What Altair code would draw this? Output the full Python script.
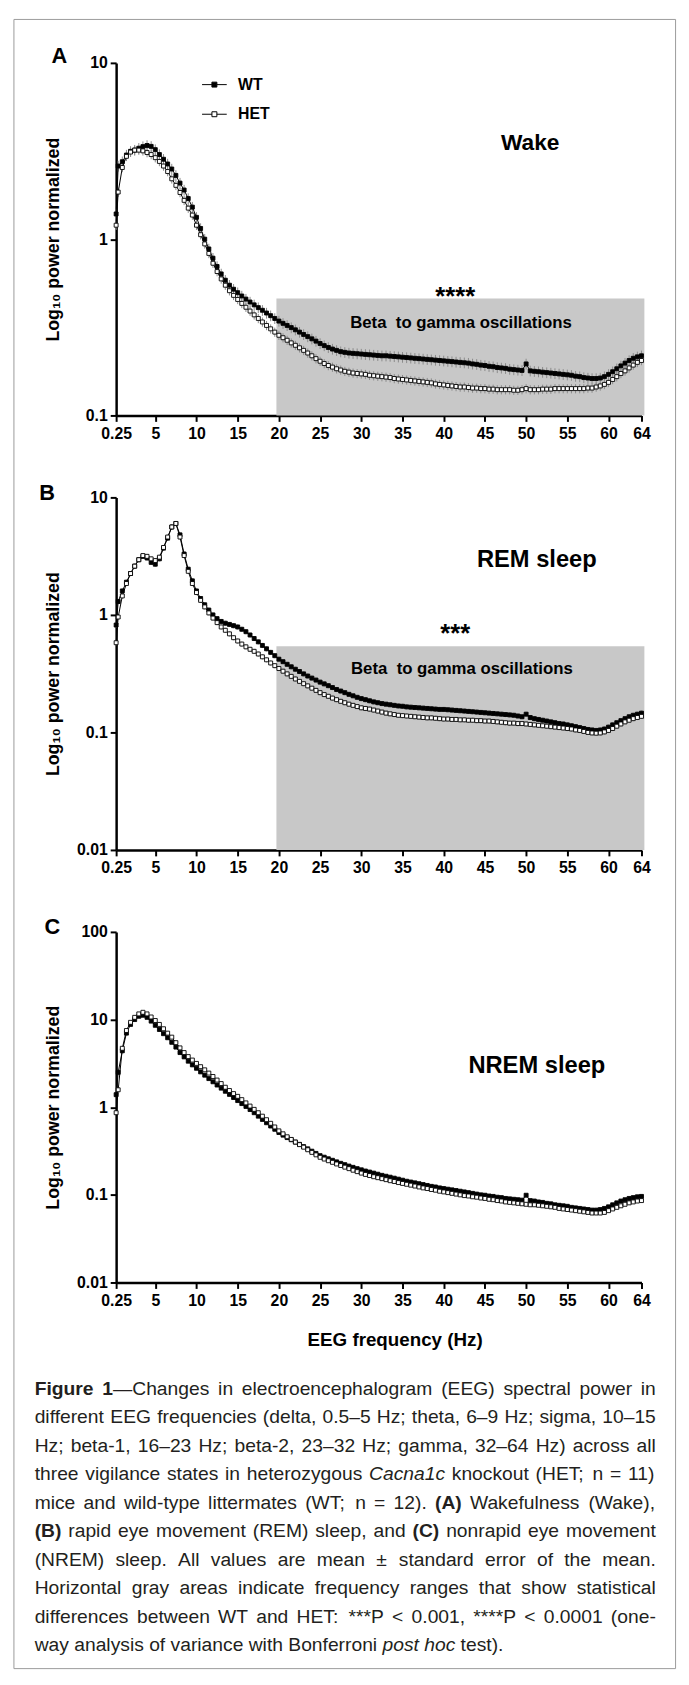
import altair as alt
import pandas as pd

# ---------------- data ----------------
FREQ = [0.25] + [k / 2 for k in range(1, 129)]   # 0.25, 0.5, 1.0 ... 64 Hz bins
X_TICKS = [0.25, 5, 10, 15, 20, 25, 30, 35, 40, 45, 50, 55, 60, 64]
SERIES = ["WT", "HET"]

WAKE_WT = [
    1.39, 2.6, 2.75, 3.0, 3.15, 3.2, 3.28, 3.35, 3.4, 3.36,
    3.22, 3.02, 2.84, 2.67, 2.5, 2.3, 2.08, 1.9, 1.7, 1.52,
    1.33, 1.15, 1.0, 0.88, 0.78, 0.7, 0.635, 0.585, 0.548, 0.52,
    0.497, 0.476, 0.457, 0.44, 0.424, 0.409, 0.395, 0.381, 0.368, 0.355,
    0.343, 0.333, 0.324, 0.315, 0.306, 0.297, 0.288, 0.28, 0.272, 0.264,
    0.256, 0.249, 0.243, 0.238, 0.234, 0.23, 0.228, 0.226, 0.225, 0.224,
    0.223, 0.222, 0.221, 0.22, 0.219, 0.218, 0.218, 0.217, 0.216, 0.215,
    0.214, 0.213, 0.212, 0.211, 0.21, 0.209, 0.208, 0.207, 0.206, 0.205,
    0.204, 0.203, 0.202, 0.201, 0.2, 0.199, 0.198, 0.196, 0.195, 0.193,
    0.192, 0.19, 0.189, 0.187, 0.186, 0.185, 0.183, 0.182, 0.181, 0.18,
    0.196, 0.179, 0.178, 0.177, 0.176, 0.175, 0.174, 0.173, 0.172, 0.171,
    0.17, 0.169, 0.167, 0.166, 0.164, 0.163, 0.162, 0.162, 0.163, 0.166,
    0.171, 0.177, 0.184, 0.191, 0.198, 0.205, 0.211, 0.215, 0.218,
]
WAKE_HET = [
    1.2, 1.85, 2.55, 2.95, 3.12, 3.2, 3.2, 3.17, 3.1, 3.02,
    2.9, 2.76, 2.6, 2.42, 2.2, 2.02, 1.84, 1.66, 1.5, 1.37,
    1.2, 1.06, 0.94, 0.83, 0.73, 0.655, 0.595, 0.548, 0.51, 0.48,
    0.455, 0.432, 0.411, 0.391, 0.372, 0.355, 0.339, 0.324, 0.31, 0.297,
    0.285, 0.276, 0.267, 0.258, 0.25, 0.242, 0.234, 0.226, 0.218, 0.21,
    0.203, 0.197, 0.192, 0.188, 0.184, 0.181, 0.178, 0.176, 0.174, 0.173,
    0.172, 0.171, 0.169, 0.168, 0.167, 0.166, 0.165, 0.164, 0.162, 0.161,
    0.16, 0.159, 0.158, 0.157, 0.156, 0.155, 0.154, 0.153, 0.151, 0.15,
    0.149, 0.148, 0.147, 0.146, 0.145, 0.145, 0.144, 0.143, 0.143, 0.142,
    0.142, 0.141, 0.141, 0.14, 0.14, 0.14, 0.14, 0.139, 0.139, 0.14,
    0.142, 0.14, 0.14, 0.14, 0.141, 0.141, 0.141, 0.142, 0.142, 0.142,
    0.142, 0.142, 0.142, 0.142, 0.142, 0.143, 0.143, 0.145, 0.147, 0.15,
    0.154, 0.16, 0.166, 0.173, 0.179, 0.186, 0.193, 0.2, 0.205,
]
REM_WT = [
    0.82, 1.3, 1.6, 1.9, 2.25, 2.6, 2.95, 3.15, 3.05, 2.8,
    2.7, 3.0, 3.7, 4.5, 5.6, 6.0, 4.8, 3.3, 2.45, 1.95,
    1.6, 1.38, 1.22, 1.1, 1.0, 0.93, 0.88, 0.85, 0.83, 0.81,
    0.79, 0.755, 0.72, 0.675, 0.63, 0.59, 0.55, 0.515, 0.48, 0.45,
    0.42, 0.4, 0.38, 0.362, 0.345, 0.33, 0.315, 0.302, 0.29, 0.279,
    0.268, 0.259, 0.25, 0.241, 0.232, 0.225, 0.218, 0.211, 0.205, 0.199,
    0.194, 0.19, 0.186, 0.182, 0.179, 0.176, 0.174, 0.172, 0.17, 0.168,
    0.167, 0.165, 0.164, 0.163, 0.162, 0.161, 0.16, 0.159, 0.158, 0.157,
    0.157, 0.156, 0.155, 0.154, 0.153, 0.152, 0.151, 0.15, 0.149, 0.148,
    0.147, 0.146, 0.145, 0.144, 0.143, 0.142, 0.141, 0.14, 0.138, 0.136,
    0.143, 0.134, 0.131, 0.129, 0.127, 0.125, 0.123, 0.121, 0.119, 0.118,
    0.116, 0.114, 0.112, 0.11, 0.108, 0.106, 0.105, 0.104, 0.105, 0.107,
    0.111, 0.116, 0.121, 0.126, 0.131, 0.136, 0.14, 0.143, 0.146,
]
REM_HET = [
    0.58, 0.96, 1.45, 1.85, 2.25, 2.6, 2.95, 3.2, 3.15, 3.0,
    2.9, 3.1, 3.75, 4.6, 5.6, 6.0, 4.6, 3.2, 2.35, 1.85,
    1.55, 1.33, 1.17, 1.04, 0.94, 0.86, 0.79, 0.74, 0.69, 0.64,
    0.6, 0.565, 0.535, 0.51, 0.49, 0.465, 0.44, 0.415, 0.39, 0.37,
    0.35, 0.332, 0.315, 0.3, 0.285, 0.272, 0.26, 0.249, 0.238, 0.228,
    0.218, 0.21, 0.203, 0.196, 0.19, 0.184, 0.179, 0.174, 0.17, 0.166,
    0.162, 0.16, 0.158, 0.155, 0.152, 0.149, 0.146, 0.144, 0.142, 0.14,
    0.139, 0.138, 0.137, 0.136, 0.135, 0.134, 0.133, 0.133, 0.132, 0.131,
    0.13, 0.13, 0.129, 0.129, 0.128, 0.128, 0.127, 0.127, 0.126, 0.126,
    0.125, 0.125, 0.124, 0.123, 0.122, 0.121, 0.12, 0.12, 0.119, 0.119,
    0.118, 0.117, 0.116, 0.115, 0.114, 0.113, 0.112, 0.111, 0.11, 0.109,
    0.108, 0.107, 0.105, 0.104, 0.102, 0.1, 0.099, 0.0985, 0.099, 0.101,
    0.104, 0.108, 0.113, 0.118, 0.123, 0.127, 0.131, 0.134, 0.137,
]
NREM_WT = [
    1.39, 2.5, 4.4, 7.0, 8.8, 10.0, 10.9, 11.2, 10.6, 9.6,
    8.6, 7.7, 6.9, 6.2, 5.5, 4.85, 4.2, 3.75, 3.35, 3.04,
    2.78, 2.53, 2.32, 2.12, 1.95, 1.79, 1.65, 1.52, 1.4, 1.29,
    1.19, 1.1, 1.02, 0.94, 0.865, 0.79, 0.725, 0.665, 0.61, 0.56,
    0.514, 0.48, 0.45, 0.425, 0.4, 0.377, 0.355, 0.335, 0.315, 0.297,
    0.28, 0.269, 0.258, 0.248, 0.238, 0.229, 0.221, 0.213, 0.206, 0.199,
    0.193, 0.187, 0.182, 0.177, 0.172, 0.167, 0.163, 0.159, 0.155, 0.151,
    0.147, 0.143, 0.14, 0.137, 0.134, 0.131, 0.128, 0.125, 0.123, 0.12,
    0.118, 0.116, 0.114, 0.112, 0.11, 0.108, 0.106, 0.104, 0.102, 0.1,
    0.099, 0.097, 0.096, 0.094, 0.093, 0.091, 0.09, 0.089, 0.088, 0.087,
    0.099, 0.086, 0.085, 0.083, 0.082, 0.08, 0.079, 0.077, 0.076, 0.075,
    0.074, 0.072, 0.071, 0.07, 0.069, 0.068, 0.067, 0.067, 0.068, 0.07,
    0.073, 0.077, 0.081, 0.085, 0.088, 0.091, 0.093, 0.095, 0.096,
]
NREM_HET = [
    0.865, 1.58, 4.7, 7.5, 9.3, 10.6, 11.6, 12.1, 11.6, 10.7,
    9.75, 8.8, 7.85, 7.0, 6.3, 5.45, 4.75, 4.2, 3.78, 3.45,
    3.16, 2.9, 2.67, 2.45, 2.24, 2.04, 1.86, 1.69, 1.55, 1.43,
    1.33, 1.22, 1.12, 1.03, 0.945, 0.865, 0.79, 0.72, 0.655, 0.595,
    0.537, 0.497, 0.46, 0.429, 0.4, 0.374, 0.35, 0.327, 0.305, 0.286,
    0.268, 0.256, 0.245, 0.235, 0.225, 0.216, 0.207, 0.199, 0.191, 0.184,
    0.177, 0.171, 0.166, 0.161, 0.157, 0.153, 0.149, 0.145, 0.142, 0.138,
    0.135, 0.132, 0.129, 0.126, 0.123, 0.12, 0.118, 0.115, 0.113, 0.11,
    0.108, 0.106, 0.104, 0.102, 0.1, 0.098, 0.097, 0.095, 0.094, 0.092,
    0.091, 0.089, 0.088, 0.086, 0.085, 0.083, 0.082, 0.081, 0.08, 0.079,
    0.078, 0.077, 0.077, 0.076, 0.075, 0.074, 0.073, 0.072, 0.07, 0.069,
    0.068, 0.067, 0.066, 0.065, 0.064, 0.063, 0.062, 0.062, 0.062, 0.063,
    0.066, 0.069, 0.072, 0.075, 0.078, 0.081, 0.083, 0.085, 0.086,
]

# relative standard error of the mean (error bar half length / mean)
SEM = {"Wake": (0.07, 0.06), "REM": (0.05, 0.05), "NREM": (0.04, 0.04)}

# significant frequency band: start Hz, end Hz, top value
BAND = {"Wake": (19.7, 64.35, 0.46), "REM": (19.7, 64.35, 0.54)}
BAND_LABEL = "Beta\u00a0 to gamma oscillations"
BAND_LABEL_POS = {"Wake": (42.1, 0.336), "REM": (42.2, 0.345)}
STARS = {"Wake": ("****", 41.4, 0.424), "REM": ("***", 41.4, 0.593)}
STATE = {"Wake": ("Wake", 50.5, 3.52, 23), "REM": ("REM sleep", 51.3, 2.9, 24),
         "NREM": ("NREM sleep", 51.3, 2.93, 24)}

# caption: each line is a list of (text, style) runs; N normal, B bold, I italic
CAPTION_LINES = [
    [("Figure 1", "B"), ("\u2014Changes in electroencephalogram (EEG) spectral power in", "N")],
    [("different EEG frequencies (delta, 0.5\u20135 Hz; theta, 6\u20139 Hz; sigma, 10\u201315", "N")],
    [("Hz; beta-1, 16\u201323 Hz; beta-2, 23\u201332 Hz; gamma, 32\u201364 Hz) across all", "N")],
    [("three vigilance states in heterozygous ", "N"), ("Cacna1c", "I"), (" knockout (HET; n = 11)", "N")],
    [("mice and wild-type littermates (WT; n = 12). ", "N"), ("(A)", "B"), (" Wakefulness (Wake),", "N")],
    [("(B)", "B"), (" rapid eye movement (REM) sleep, and ", "N"), ("(C)", "B"), (" nonrapid eye movement", "N")],
    [("(NREM) sleep. All values are mean \u00b1 standard error of the mean.", "N")],
    [("Horizontal gray areas indicate frequency ranges that show statistical", "N")],
    [("differences between WT and HET: ***P < 0.001, ****P < 0.0001 (one-", "N")],
    [("way analysis of variance with Bonferroni ", "N"), ("post hoc", "I"), (" test).", "N")],
]

# ---------------- layout / style ----------------
FONT = "Liberation Sans, Arial, Helvetica, sans-serif"
CAP_FONT = "Liberation Sans, Arial, Helvetica, sans-serif"
CAP_SIZE = 19.5
CAP_LEFT, CAP_RIGHT = 34, 663
W = 532
SPACING = 83
PLOT_LEFT = 116.5
CAP_TOP = 1370.5
CAP_H = 300
CAP_LINE0 = 1395
CAP_STEP = 28.9
LBL = "'' + datum.value"
LEGEND_SYMBOL = "M-1,0H-0.2M0.2,0H1M-0.2,-0.2H0.2V0.2H-0.2Z"

# Arial / Liberation Sans advance widths (1/1000 em) used to justify the caption
_REG = {" ": 278, "!": 278, "(": 333, ")": 333, "*": 389, "+": 584, ",": 278, "-": 333, ".": 278,
        "/": 278, ":": 278, ";": 278, "<": 584, "=": 584, ">": 584, "?": 556,
        "A": 667, "B": 667, "C": 722, "D": 722, "E": 667, "F": 611, "G": 778, "H": 722, "I": 278,
        "J": 500, "K": 667, "L": 556, "M": 833, "N": 722, "O": 778, "P": 667, "Q": 778, "R": 722,
        "S": 667, "T": 611, "U": 722, "V": 667, "W": 944, "X": 667, "Y": 667, "Z": 611,
        "a": 556, "b": 556, "c": 500, "d": 556, "e": 556, "f": 278, "g": 556, "h": 556, "i": 222,
        "j": 222, "k": 500, "l": 222, "m": 833, "n": 556, "o": 556, "p": 556, "q": 556, "r": 333,
        "s": 500, "t": 278, "u": 556, "v": 500, "w": 722, "x": 500, "y": 500, "z": 500,
        "\u2013": 556, "\u2014": 1000, "\u00b1": 584}
for _d in "0123456789":
    _REG[_d] = 556
_BOLD = dict(_REG)
_BOLD.update({"A": 722, "B": 722, "C": 722, "F": 611, "i": 278, "g": 611, "u": 611, "r": 389})


def text_width(t, style):
    table = _BOLD if style == "B" else _REG
    return sum(table.get(ch, 556) for ch in t) * CAP_SIZE / 1000.0


def caption_rows():
    rows = []
    n = len(CAPTION_LINES)
    for li, runs in enumerate(CAPTION_LINES):
        words = [[]]
        for text, style in runs:
            for j, part in enumerate(text.split(" ")):
                if j > 0:
                    words.append([])
                if part:
                    words[-1].append((part, style))
        words = [w for w in words if w]
        widths = [sum(text_width(t, s) for t, s in w) for w in words]
        if li < n - 1 and len(words) > 1:
            gap = (CAP_RIGHT - CAP_LEFT - sum(widths)) / (len(words) - 1)
        else:
            gap = text_width(" ", "N")
        x = CAP_LEFT
        for w, wd in zip(words, widths):
            xx = x
            for t, s in w:
                rows.append({"px": xx, "py": CAP_LINE0 + CAP_STEP * li, "t": t, "kind": s})
                xx += text_width(t, s)
            x += wd + gap
    return rows


PANELS = [
    dict(key="Wake", letter="A", wt=WAKE_WT, het=WAKE_HET, ydom=[0.1, 10], yticks=[10, 1, 0.1],
         h=357, lxy=(-57.5, -6.5), legend=True, xtitle=False, frame=True),
    dict(key="REM", letter="B", wt=REM_WT, het=REM_HET, ydom=[0.01, 10], yticks=[10, 1, 0.1, 0.01],
         h=357, lxy=(-70, -4), legend=False, xtitle=False, frame=False),
    dict(key="NREM", letter="C", wt=NREM_WT, het=NREM_HET, ydom=[0.01, 100], yticks=[100, 10, 1, 0.1, 0.01],
         h=355, lxy=(-64.5, -5), legend=False, xtitle=True, frame=False),
]


def build_panel(p):
    key = p["key"]
    e_wt, e_het = SEM[key]
    rows = []
    for name, vals, e, o in (("WT", p["wt"], e_wt, 0), ("HET", p["het"], e_het, 1)):
        for f, v in zip(FREQ, vals):
            rows.append({"f": f, "v": v, "lo": v * (1 - e), "hi": v * (1 + e), "series": name, "o": o})
    df = pd.DataFrame(rows)

    xs = alt.Scale(domain=[0.25, 64], nice=False, zero=False)
    ys = alt.Scale(type="log", domain=p["ydom"], nice=False)
    if p["xtitle"]:
        xaxis = alt.Axis(values=X_TICKS, labelExpr=LBL, labelFlush=False, labelOverlap=False, grid=False,
                         title="EEG frequency (Hz)", titleX=282, titleY=57.5, titleBaseline="middle",
                         titleFontSize=19)
    else:
        xaxis = alt.Axis(values=X_TICKS, labelExpr=LBL, labelFlush=False, labelOverlap=False, grid=False,
                         title="")
    yaxis = alt.Axis(values=p["yticks"], labelExpr=LBL, labelOverlap=False, grid=False,
                     title="Log\u2081\u2080 power normalized", titleX=-63, titleBaseline="middle",
                     titleFontSize=18)

    def X(fld):
        return alt.X(fld, type="quantitative", scale=xs, axis=xaxis)

    def Y(fld):
        return alt.Y(fld, type="quantitative", scale=ys, axis=yaxis)

    layers = []
    if key in BAND:
        x0, x1, top = BAND[key]
        bdf = pd.DataFrame({"x0": [x0], "x1": [x1], "top": [top], "bot": [p["ydom"][0]]})
        layers.append(alt.Chart(bdf).mark_rect(color="#c8c8c8").encode(
            x=X("x0"), x2=alt.X2("x1"), y=Y("top"), y2=alt.Y2("bot")))

    base = alt.Chart(df)
    layers.append(base.mark_rule(color="#8a8a8a", strokeWidth=1).encode(
        x=X("f"), y=Y("lo"), y2=alt.Y2("hi")))
    layers.append(base.mark_line(color="black", strokeWidth=1).encode(
        x=X("f"), y=Y("v"), detail="series:N"))

    if p["legend"]:
        leg = alt.Legend(title=None, orient="none", legendX=86.5, legendY=9, symbolType=LEGEND_SYMBOL,
                         symbolSize=625, symbolStrokeColor="black", symbolStrokeWidth=1,
                         labelFont=FONT, labelFontSize=16, labelFontWeight="bold", labelColor="black",
                         labelOffset=11, rowPadding=9, padding=0)
    else:
        leg = None
    layers.append(base.mark_square(size=16, stroke="black", strokeWidth=0.9, opacity=1).encode(
        x=X("f"), y=Y("v"),
        fill=alt.Fill("series:N", scale=alt.Scale(domain=SERIES, range=["black", "white"]), legend=leg),
        order=alt.Order("o:Q")))

    if key in BAND:
        bx, by = BAND_LABEL_POS[key]
        layers.append(alt.Chart(pd.DataFrame({"f": [bx], "v": [by], "t": [BAND_LABEL]})).mark_text(
            font=FONT, fontSize=17, fontWeight="bold", color="black", align="center", baseline="middle"
        ).encode(x=X("f"), y=Y("v"), text="t:N"))
        st, sx, sy = STARS[key]
        layers.append(alt.Chart(pd.DataFrame({"f": [sx], "v": [sy], "t": [st]})).mark_text(
            font=FONT, fontSize=26, fontWeight="bold", color="black", align="center", baseline="alphabetic"
        ).encode(x=X("f"), y=Y("v"), text="t:N"))

    lt, lx, ly, lsize = STATE[key]
    layers.append(alt.Chart(pd.DataFrame({"f": [lx], "v": [ly], "t": [lt]})).mark_text(
        font=FONT, fontSize=lsize, fontWeight="bold", color="black", align="center", baseline="middle"
    ).encode(x=X("f"), y=Y("v"), text="t:N"))

    layers.append(alt.Chart(pd.DataFrame({"t": [p["letter"]]})).mark_text(
        font=FONT, fontSize=22, fontWeight="bold", color="black", align="center", baseline="middle"
    ).encode(x=alt.value(p["lxy"][0]), y=alt.value(p["lxy"][1]), text="t:N"))

    if p["frame"]:
        layers.append(alt.Chart(pd.DataFrame({"k": [0]})).mark_rect(
            fill="transparent", stroke="#9a9a9a", strokeWidth=1
        ).encode(x=alt.value(13 - PLOT_LEFT), x2=alt.value(683 - PLOT_LEFT),
                 y=alt.value(-44), y2=alt.value(1626)))

    return alt.layer(*layers).properties(width=W, height=p["h"])


panels = [build_panel(p) for p in PANELS]

cap_df = pd.DataFrame(caption_rows())
cx = alt.Scale(domain=[PLOT_LEFT, PLOT_LEFT + W], nice=False, zero=False)
cy = alt.Scale(domain=[CAP_TOP, CAP_TOP + CAP_H], reverse=True, nice=False, zero=False)
cap_layers = []
for kind, weight, style in (("N", "normal", "normal"), ("B", "bold", "normal"), ("I", "normal", "italic")):
    cap_layers.append(alt.Chart(cap_df).transform_filter(alt.datum.kind == kind).mark_text(
        font=CAP_FONT, fontSize=CAP_SIZE, align="left", baseline="middle", fontWeight=weight,
        fontStyle=style, color="#231f20"
    ).encode(x=alt.X("px:Q", scale=cx, axis=None), y=alt.Y("py:Q", scale=cy, axis=None), text="t:N"))
caption = alt.layer(*cap_layers).properties(width=W, height=CAP_H)

chart = (
    alt.vconcat(*panels, caption, spacing=SPACING, bounds="flush")
    .resolve_scale(fill="independent")
    .resolve_legend(fill="independent")
    .properties(padding={"left": 4.5, "top": 0, "right": 4, "bottom": 4})
    .configure_view(stroke="transparent")
    .configure_axis(domainColor="black", domainWidth=2.5, tickColor="black", tickWidth=2, tickSize=6,
                    labelFont=FONT, labelFontSize=16, labelFontWeight="bold", labelColor="black",
                    titleFont=FONT, titleFontWeight="bold", titleColor="black")
    .configure_axisX(labelPadding=4)
    .configure_axisY(labelPadding=3)
)

chart.save("out.html", embed_options={"renderer": "svg", "actions": False})
